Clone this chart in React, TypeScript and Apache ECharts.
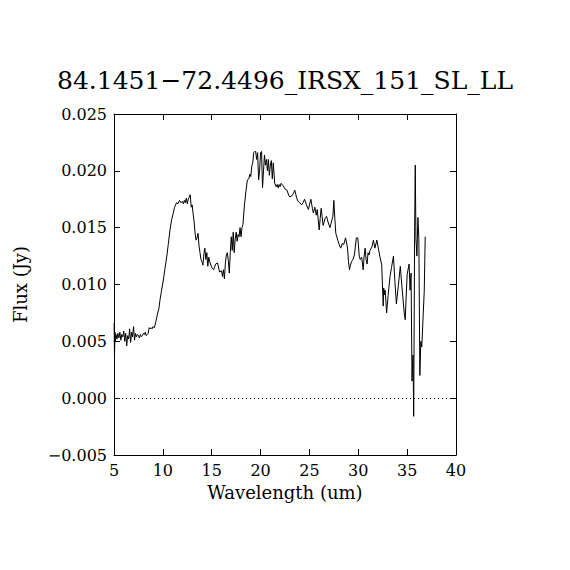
import React, { useEffect, useRef } from "react";
import * as echarts from "echarts";

const TITLE = "84.1451\u221272.4496_IRSX_151_SL_LL";
const X_NAME = "Wavelength (um)";
const Y_NAME = "Flux (Jy)";
const X_MIN = 5;
const X_MAX = 40;
const X_STEP = 5;
const Y_MIN = -0.005;
const Y_MAX = 0.025;
const Y_STEP = 0.005;
const ZERO_LEVEL = [0];

const wavelength = [
  5.01, 5.05, 5.1, 5.15, 5.2, 5.3, 5.4, 5.5, 5.6, 5.7, 5.8, 5.9, 6.0, 6.1, 6.2, 6.3, 6.4, 6.5,
  6.6, 6.7, 6.8, 6.9, 7.0, 7.1, 7.2, 7.3, 7.4, 7.5, 7.6, 7.7, 7.8, 7.9, 8.0, 8.1, 8.2, 8.3,
  8.4, 8.5, 8.6, 8.7, 8.8, 8.9, 9.0, 9.1, 9.2, 9.3, 9.45, 9.6, 9.7, 9.85, 10.05, 10.2, 10.4,
  10.55, 10.73, 10.9, 11.07, 11.2, 11.4, 11.55, 11.7, 11.85, 12.0, 12.1, 12.2, 12.3, 12.4,
  12.5, 12.6, 12.7, 12.8, 12.9, 13.0, 13.1, 13.2, 13.3, 13.4, 13.5, 13.6, 13.7, 13.8, 13.9,
  14.0, 14.1, 14.2, 14.3, 14.4, 14.5, 14.6, 14.7, 14.8, 15.0, 15.2, 15.4, 15.6, 15.8, 16.0,
  16.1, 16.2, 16.3, 16.4, 16.5, 16.6, 16.7, 16.8, 16.9, 17.0, 17.1, 17.2, 17.3, 17.4, 17.5,
  17.6, 17.7, 17.8, 17.9, 18.0, 18.1, 18.2, 18.35, 18.5, 18.65, 18.8, 18.9, 19.0, 19.1, 19.2,
  19.3, 19.4, 19.5, 19.6, 19.7, 19.8, 19.9, 20.0, 20.1, 20.2, 20.3, 20.4, 20.5, 20.6, 20.7,
  20.8, 20.9, 21.0, 21.1, 21.2, 21.3, 21.45, 21.6, 21.7, 21.8, 21.9, 22.0, 22.1, 22.3, 22.5,
  22.7, 22.9, 23.0, 23.2, 23.35, 23.5, 23.7, 23.85, 24.0, 24.2, 24.35, 24.5, 24.7, 24.9, 25.0,
  25.15, 25.3, 25.4, 25.55, 25.7, 25.8, 26.0, 26.1, 26.2, 26.3, 26.4, 26.6, 26.75, 26.9, 27.1,
  27.25, 27.4, 27.5, 27.6, 27.7, 27.9, 28.05, 28.2, 28.35, 28.5, 28.7, 28.9, 29.0, 29.1, 29.2,
  29.3, 29.45, 29.6, 29.8, 29.95, 30.1, 30.2, 30.35, 30.5, 30.6, 30.7, 30.8, 30.9, 31.0, 31.1,
  31.2, 31.4, 31.55, 31.7, 31.9, 32.05, 32.2, 32.4, 32.55, 32.6, 32.7, 32.75, 32.9, 33.05,
  33.25, 33.4, 33.6, 33.75, 33.9, 34.1, 34.3, 34.4, 34.55, 34.7, 34.8, 35.0, 35.2, 35.3, 35.4,
  35.5, 35.6, 35.67, 35.77, 35.83, 35.9, 36.0, 36.1, 36.2, 36.3, 36.4, 36.5, 36.65, 36.75, 36.85,
];

const flux = [
  0.0066, 0.0037, 0.0058, 0.005, 0.0056, 0.0052, 0.0057, 0.0053, 0.0058, 0.0051, 0.0056, 0.0054,
  0.0059, 0.005, 0.0057, 0.0046, 0.0055, 0.0052, 0.0061, 0.0049, 0.0058, 0.0054, 0.0063, 0.0051,
  0.0057, 0.0054, 0.0056, 0.0055, 0.0053, 0.0056, 0.0054, 0.0055, 0.0057, 0.0056, 0.0058,
  0.0055, 0.0056, 0.0057, 0.0062, 0.0061, 0.0062, 0.0061, 0.0063, 0.0062, 0.0064, 0.0068,
  0.0074, 0.0079, 0.0086, 0.0094, 0.0104, 0.0113, 0.01245, 0.0135, 0.0148, 0.0157, 0.0163,
  0.0168, 0.0172, 0.0171, 0.0174, 0.0172, 0.0173, 0.0171, 0.0174, 0.0172, 0.0176, 0.0171,
  0.0175, 0.0177, 0.0179, 0.0168, 0.017, 0.0162, 0.0155, 0.0145, 0.0139, 0.0141, 0.0145, 0.0134,
  0.0128, 0.0122, 0.012, 0.0117, 0.0127, 0.0132, 0.0122, 0.0128, 0.0116, 0.0124, 0.012, 0.0115,
  0.0113, 0.0118, 0.0119, 0.0111, 0.0112, 0.0107, 0.0113, 0.0105, 0.0119, 0.0126, 0.0128,
  0.0121, 0.011, 0.0128, 0.0142, 0.013, 0.0146, 0.0128, 0.014, 0.0146, 0.0138, 0.0144, 0.0142,
  0.015, 0.0142, 0.015, 0.0153, 0.017, 0.0182, 0.0192, 0.0193, 0.0197, 0.0195, 0.0204, 0.0207,
  0.0216, 0.0217, 0.0217, 0.021, 0.0216, 0.0192, 0.02, 0.0216, 0.0217, 0.0185, 0.02, 0.0214,
  0.0205, 0.021, 0.02, 0.021, 0.0196, 0.0205, 0.0209, 0.0193, 0.0207, 0.0189, 0.0186, 0.0188,
  0.0185, 0.0188, 0.0186, 0.0189, 0.0187, 0.0184, 0.0183, 0.0178, 0.0177, 0.0178, 0.018, 0.0183,
  0.0176, 0.0173, 0.0172, 0.017, 0.0172, 0.0175, 0.017, 0.0166, 0.017, 0.0175, 0.0167, 0.0163,
  0.0168, 0.0161, 0.0166, 0.0148, 0.0158, 0.0167, 0.016, 0.0152, 0.0158, 0.016, 0.0155, 0.015,
  0.0155, 0.016, 0.0174, 0.0158, 0.0145, 0.0139, 0.0135, 0.0132, 0.0136, 0.0135, 0.0141,
  0.0132, 0.012, 0.0113, 0.0117, 0.012, 0.0122, 0.0126, 0.0141, 0.0141, 0.0125, 0.0122, 0.0124,
  0.0113, 0.0125, 0.0132, 0.0122, 0.0118, 0.0128, 0.0126, 0.013, 0.0133, 0.0139, 0.0132,
  0.0139, 0.0132, 0.0125, 0.0117, 0.0081, 0.0097, 0.0091, 0.0095, 0.0075, 0.009, 0.0107,
  0.0115, 0.0125, 0.0102, 0.0083, 0.0099, 0.0116, 0.0105, 0.009, 0.0075, 0.0069, 0.0109,
  0.0118, 0.0095, 0.011, 0.0015, 0.0038, -0.0016, 0.0151, 0.0205, 0.0141, 0.0125, 0.0159,
  0.014, 0.002, 0.005, 0.0045, 0.0075, 0.0094, 0.0142,
];

const FONT = "DejaVu Serif";

function fmtY(v: number): string {
  const s = v.toFixed(3);
  return s.startsWith("-") ? "\u2212" + s.slice(1) : s;
}

export default function App() {
  const ref = useRef<HTMLDivElement>(null);
  useEffect(() => {
    if (!ref.current) return;
    const chart = echarts.init(ref.current, undefined, { renderer: "svg" });
    const points = wavelength.map((w, i) => [w, flux[i]]);
    const axisLine = { show: true, onZero: false, lineStyle: { color: "#000", width: 1 } };
    const axisTick = { show: true, inside: true, length: 6, lineStyle: { color: "#000", width: 1 } };
    chart.setOption({
      animation: false,
      backgroundColor: "#fff",
      title: {
        text: TITLE,
        left: "center",
        top: 63,
        textStyle: { fontFamily: FONT, fontSize: 25, fontWeight: "normal", color: "#000" },
      },
      grid: { left: 114, top: 114, width: 342, height: 341 },
      xAxis: [
        {
          type: "value",
          min: X_MIN,
          max: X_MAX,
          interval: X_STEP,
          position: "bottom",
          name: X_NAME,
          nameLocation: "middle",
          nameGap: 28,
          nameTextStyle: { fontFamily: FONT, fontSize: 18, color: "#000" },
          axisLine,
          axisTick,
          splitLine: { show: false },
          axisLabel: { fontFamily: FONT, fontSize: 16, color: "#000", margin: 7 },
        },
        {
          type: "value",
          min: X_MIN,
          max: X_MAX,
          interval: X_STEP,
          position: "top",
          axisLine,
          axisTick,
          splitLine: { show: false },
          axisLabel: { show: false },
        },
      ],
      yAxis: [
        {
          type: "value",
          min: Y_MIN,
          max: Y_MAX,
          interval: Y_STEP,
          position: "left",
          name: Y_NAME,
          nameLocation: "middle",
          nameGap: 85,
          nameRotate: 90,
          nameTextStyle: { fontFamily: FONT, fontSize: 18, color: "#000" },
          axisLine,
          axisTick,
          splitLine: { show: false },
          axisLabel: { fontFamily: FONT, fontSize: 16, color: "#000", margin: 7, formatter: fmtY },
        },
        {
          type: "value",
          min: Y_MIN,
          max: Y_MAX,
          interval: Y_STEP,
          position: "right",
          axisLine,
          axisTick,
          splitLine: { show: false },
          axisLabel: { show: false },
        },
      ],
      series: [
        {
          type: "line",
          data: points,
          showSymbol: false,
          symbol: "none",
          lineStyle: { color: "#000", width: 1 },
          markLine: {
            silent: true,
            symbol: "none",
            label: { show: false },
            lineStyle: { color: "#000", width: 1, type: [1, 3] },
            data: ZERO_LEVEL.map((v) => ({ yAxis: v })),
          },
        },
      ],
    });
    return () => chart.dispose();
  }, []);
  return (
    <div
      ref={ref}
      style={{ position: "fixed", left: 0, top: 0, width: 570, height: 570, background: "#fff" }}
    />
  );
}
